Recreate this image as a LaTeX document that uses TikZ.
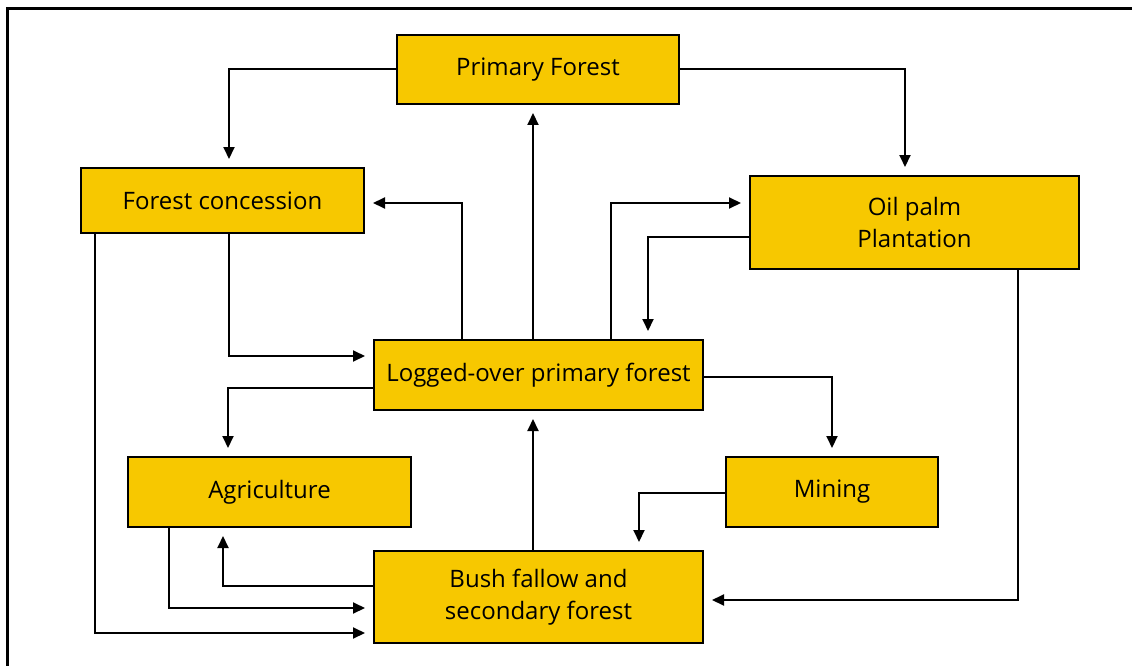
\documentclass[tikz,border=0pt]{standalone}
\usepackage{fontspec}
\setmainfont{Open Sans}
\usetikzlibrary{arrows.meta}
\definecolor{boxyellow}{RGB}{247,200,0}
\begin{document}
\begin{tikzpicture}[x=1pt,y=-1pt,
  box/.style={draw=black, line width=2pt, fill=boxyellow, inner sep=0pt, align=center,
    font=\fontsize{24}{32}\selectfont},
  conn/.style={line width=2pt, shorten >=8pt, -{Triangle[length=12pt,width=11pt]}},
]
\useasboundingbox (0,0) rectangle (1132,666);
\draw[line width=3pt] (7,666) -- (7,9) -- (1132,9);

\node[box, minimum width=282pt, minimum height=69pt] (pf) at (538,69.5) {Primary Forest};
\node[box, minimum width=283pt, minimum height=65pt] (fc) at (222.5,200.5) {Forest concession};
\node[box, minimum width=329pt, minimum height=93pt] (op) at (914.5,222.5) {Oil palm\\Plantation};
\node[box, minimum width=329pt, minimum height=70pt] (lo) at (538.5,375) {Logged-over primary forest};
\node[box, minimum width=283pt, minimum height=70pt] (ag) at (269.5,492) {Agriculture};
\node[box, minimum width=212pt, minimum height=70pt] (mi) at (832,492) {Mining};
\node[box, minimum width=329pt, minimum height=92pt] (bf) at (538.5,597) {Bush fallow and\\secondary forest};

\draw[conn] (pf.west) -| ([xshift=6.5pt]fc.north);
\draw[conn] (pf.east) -| ([xshift=-9.5pt]op.north);
\draw[conn] ([xshift=-5.5pt]lo.north) -- ([xshift=-5pt]pf.south);
\draw[conn] ([xshift=-76.5pt]lo.north) |- ([yshift=-2.5pt]fc.east);
\draw[conn] ([xshift=72.5pt]lo.north) |- ([yshift=19.5pt]op.west);
\draw[conn] ([yshift=-14.5pt]op.west) -| ([xshift=109.5pt]lo.north);
\draw[conn] ([xshift=6.5pt]fc.south) |- ([yshift=19pt]lo.west);
\draw[conn] ([yshift=-13pt]lo.west) -| ([xshift=-41.5pt]ag.north);
\draw[conn] ([yshift=-2pt]lo.east) -| (mi.north);
\draw[conn] ([yshift=-1pt]mi.west) -| ([xshift=100.5pt]bf.north);
\draw[conn] ([xshift=-5.5pt]bf.north) -- ([xshift=-5.5pt]lo.south);
\draw[conn] ([yshift=11pt]bf.west) -| ([xshift=-46.5pt]ag.south);
\draw[conn] ([xshift=-100.5pt]ag.south) |- ([yshift=-11pt]bf.west);
\draw[conn] ([xshift=-127.5pt]fc.south) |- ([yshift=-36pt]bf.west);
\draw[conn] ([xshift=103.5pt]op.south) |- ([yshift=-3pt]bf.east);
\end{tikzpicture}
\end{document}
